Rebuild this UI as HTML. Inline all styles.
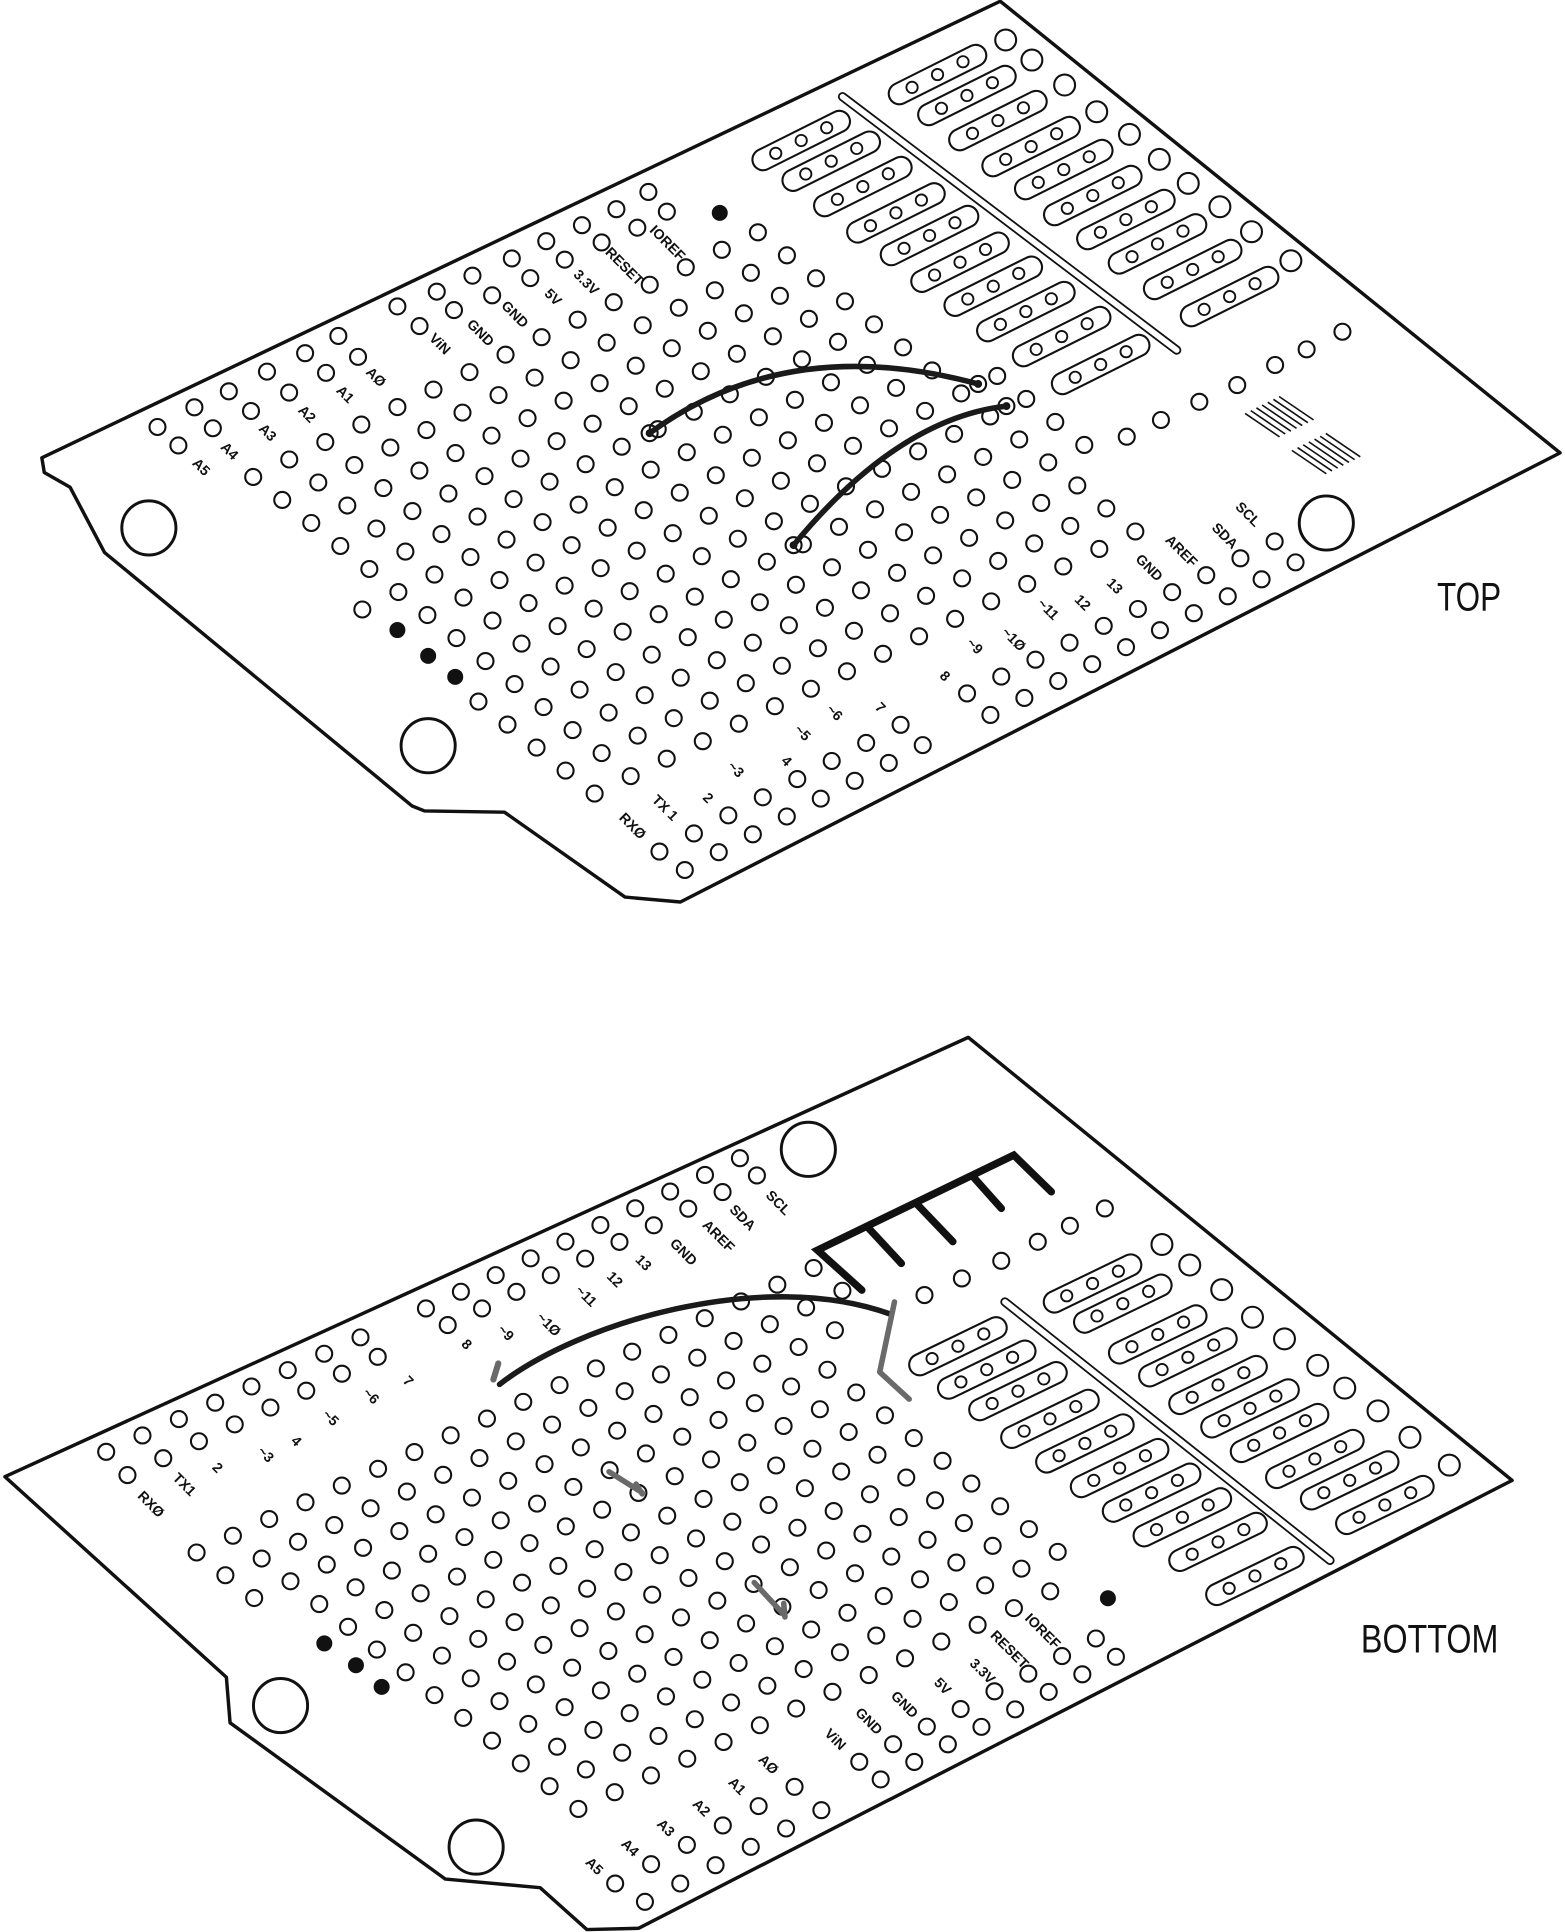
<!DOCTYPE html>
<html><head><meta charset="utf-8"><style>
html,body{margin:0;padding:0;background:#fff;}
svg{display:block;}
.l{font-family:"Liberation Sans",sans-serif;font-size:11.5px;font-weight:bold;fill:#111;text-anchor:middle;dominant-baseline:middle;}
.t{font-family:"Liberation Sans",sans-serif;font-size:32px;fill:#111;text-anchor:middle;}
</style></head><body>
<svg id="s" xmlns="http://www.w3.org/2000/svg" width="1565" height="1932" viewBox="0 0 1272 1570" preserveAspectRatio="none">
<rect width="1272" height="1570" fill="#fff"/>
<polygon points="34,372 813,1 1268,368 553,733 508,729 410,660 345,659 335,655 85,449 57,396 36,384" fill="#fff" stroke="#111" stroke-width="2.8" stroke-linejoin="round"/>
<polygon points="4,1200 787,843 1229,1203 519,1567 477,1568 439,1534 362,1527 187,1400 184,1363" fill="#fff" stroke="#111" stroke-width="2.8" stroke-linejoin="round"/>
<g id="g"></g>
<g id="w">
<path d="M528,352 Q640,270 795,312" fill="none" stroke="#1a1a1a" stroke-width="4.5" stroke-linecap="round"/>
<path d="M818,330 Q730,340 645,443" fill="none" stroke="#1a1a1a" stroke-width="4.5" stroke-linecap="round"/>
<path d="M406,1125 C470,1075 620,1030 724,1068" fill="none" stroke="#1a1a1a" stroke-width="4.5" stroke-linecap="round"/>
<path d="M401,1121 L405,1108" stroke="#6a6a6a" stroke-width="5" stroke-linecap="round"/>
<path d="M727,1058 L715,1115 L739,1137" fill="none" stroke="#6a6a6a" stroke-width="4.5" stroke-linecap="round" stroke-linejoin="round"/>
<path d="M495,1196 L522,1213 M517,1206 L522,1214" fill="none" stroke="#6a6a6a" stroke-width="4.5" stroke-linecap="round"/>
<path d="M613,1286 L638,1313 M637,1303 L638,1314" fill="none" stroke="#6a6a6a" stroke-width="4.5" stroke-linecap="round"/>
<path d="M700.5,1048.4 L664.4,1015.9 L824,938.7 L854.5,968.5 M705,997 L732.6,1026.7 M745.7,979 L774.5,1009 M790.7,956 L813.9,982" fill="none" stroke="#111" stroke-width="6" stroke-linecap="round" stroke-linejoin="miter"/>
</g>
<g>
<text class="l" transform="translate(163,380) rotate(45)">A5</text>
<text class="l" transform="translate(186,367) rotate(45)">A4</text>
<text class="l" transform="translate(217,352) rotate(45)">A3</text>
<text class="l" transform="translate(249,337) rotate(45)">A2</text>
<text class="l" transform="translate(280,321) rotate(45)">A1</text>
<text class="l" transform="translate(305,307) rotate(45)">AØ</text>
<text class="l" transform="translate(357,280) rotate(45)">ViN</text>
<text class="l" transform="translate(390,271) rotate(45)">GND</text>
<text class="l" transform="translate(418,256) rotate(45)">GND</text>
<text class="l" transform="translate(449,242) rotate(45)">5V</text>
<text class="l" transform="translate(476,230) rotate(45)">3.3V</text>
<text class="l" transform="translate(507,217) rotate(45)">RESET</text>
<text class="l" transform="translate(542,198) rotate(45)">IOREF</text>
<text class="l" transform="translate(513.6,671.8) rotate(45)">RXØ</text>
<text class="l" transform="translate(540,657) rotate(45)">TX 1</text>
<text class="l" transform="translate(575,649) rotate(45)">2</text>
<text class="l" transform="translate(597.6,625.8) rotate(45)">~3</text>
<text class="l" transform="translate(638.8,619) rotate(45)">4</text>
<text class="l" transform="translate(651.8,596) rotate(45)">~5</text>
<text class="l" transform="translate(677.8,579.7) rotate(45)">~6</text>
<text class="l" transform="translate(715,575.6) rotate(45)">7</text>
<text class="l" transform="translate(767.5,550) rotate(45)">8</text>
<text class="l" transform="translate(791.7,525.6) rotate(45)">~9</text>
<text class="l" transform="translate(823.4,520) rotate(45)">~1Ø</text>
<text class="l" transform="translate(851.4,495.7) rotate(45)">~11</text>
<text class="l" transform="translate(879.4,490.3) rotate(45)">12</text>
<text class="l" transform="translate(905.5,476.8) rotate(45)">13</text>
<text class="l" transform="translate(933.5,461.9) rotate(45)">GND</text>
<text class="l" transform="translate(959.7,448.3) rotate(45)">AREF</text>
<text class="l" transform="translate(995,436) rotate(45)">SDA</text>
<text class="l" transform="translate(1013.8,418.5) rotate(45)">SCL</text>
<text class="t" transform="translate(1194,496) scale(0.8,1)">TOP</text>
</g>
<g>
<text class="l" transform="translate(122.2,1223) rotate(45)">RXØ</text>
<text class="l" transform="translate(149.3,1206.9) rotate(45)">TX1</text>
<text class="l" transform="translate(176.3,1193.3) rotate(45)">2</text>
<text class="l" transform="translate(215.5,1182.5) rotate(45)">~3</text>
<text class="l" transform="translate(240.3,1171.6) rotate(45)">4</text>
<text class="l" transform="translate(268.2,1152.7) rotate(45)">~5</text>
<text class="l" transform="translate(301,1135) rotate(45)">~6</text>
<text class="l" transform="translate(331.2,1122.9) rotate(45)">7</text>
<text class="l" transform="translate(378.8,1093) rotate(45)">8</text>
<text class="l" transform="translate(410.6,1083.6) rotate(45)">~9</text>
<text class="l" transform="translate(445.5,1076.8) rotate(45)">~1Ø</text>
<text class="l" transform="translate(475.9,1053.8) rotate(45)">~11</text>
<text class="l" transform="translate(499.2,1040.3) rotate(45)">12</text>
<text class="l" transform="translate(522.5,1026.7) rotate(45)">13</text>
<text class="l" transform="translate(555,1018) rotate(45)">GND</text>
<text class="l" transform="translate(583.5,1005) rotate(45)">AREF</text>
<text class="l" transform="translate(603,990) rotate(45)">SDA</text>
<text class="l" transform="translate(632,978) rotate(45)">SCL</text>
<text class="l" transform="translate(847,1326) rotate(45)">IOREF</text>
<text class="l" transform="translate(820,1341) rotate(45)">RESET</text>
<text class="l" transform="translate(798,1358.6) rotate(45)">3.3V</text>
<text class="l" transform="translate(765.6,1370.8) rotate(45)">5V</text>
<text class="l" transform="translate(734.7,1385.7) rotate(45)">GND</text>
<text class="l" transform="translate(705.7,1399.2) rotate(45)">GND</text>
<text class="l" transform="translate(678.4,1414) rotate(45)">ViN</text>
<text class="l" transform="translate(624,1434.4) rotate(45)">AØ</text>
<text class="l" transform="translate(598.6,1452) rotate(45)">A1</text>
<text class="l" transform="translate(569.6,1469.6) rotate(45)">A2</text>
<text class="l" transform="translate(540.6,1485.9) rotate(45)">A3</text>
<text class="l" transform="translate(511.6,1502) rotate(45)">A4</text>
<text class="l" transform="translate(482.5,1517) rotate(45)">A5</text>
<text class="t" transform="translate(1162,1343) scale(0.82,1)">BOTTOM</text>
</g>
</svg>
<script>
(function(){
var NS="http://www.w3.org/2000/svg";
var G=document.getElementById('g');
function el(t,a){var e=document.createElementNS(NS,t);for(var k in a)e.setAttribute(k,a[k]);G.appendChild(e);return e;}
function hole(x,y,r,sw){el('circle',{cx:x.toFixed(1),cy:y.toFixed(1),r:r||6.5,fill:'#fff',stroke:'#111','stroke-width':sw||1.7});}
function dot(x,y){el('circle',{cx:x,cy:y,r:6.5,fill:'#111'});}
function inPoly(x,y,p){var c=false;for(var i=0,j=p.length-1;i<p.length;j=i++){var xi=p[i][0],yi=p[i][1],xj=p[j][0],yj=p[j][1];if(((yi>y)!=(yj>y))&&(x<(xj-xi)*(y-yi)/(yj-yi)+xi))c=!c;}return c;}
function grid(ref,b,a,poly,excl){for(var i=-40;i<=40;i++)for(var j=-40;j<=40;j++){var x=ref[0]+i*b[0]+j*a[0],y=ref[1]+i*b[1]+j*a[1];if(!inPoly(x,y,poly))continue;var ok=true;for(var k=0;k<excl.length;k++){var dx=x-excl[k][0],dy=y-excl[k][1];if(dx*dx+dy*dy<excl[k][2]*excl[k][2]){ok=false;break;}}if(ok)hole(x,y);}}
function row(p0,p1,n,r){for(var k=0;k<n;k++){var t=n>1?k/(n-1):0;hole(p0[0]+(p1[0]-p0[0])*t,p0[1]+(p1[1]-p0[1])*t,r);}}
function list(L,r){L.forEach(function(p){hole(p[0],p[1],r);});}
function strip(c,s,h){
 el('line',{x1:c[0]-h[0],y1:c[1]-h[1],x2:c[0]+h[0],y2:c[1]+h[1],stroke:'#111','stroke-width':19,'stroke-linecap':'round'});
 el('line',{x1:c[0]-h[0],y1:c[1]-h[1],x2:c[0]+h[0],y2:c[1]+h[1],stroke:'#fff','stroke-width':15.6,'stroke-linecap':'round'});
 for(var k=-1;k<=1;k++)hole(c[0]+k*s[0],c[1]+k*s[1],4.6,1.5);
}
function divider(p,q){
 el('line',{x1:p[0],y1:p[1],x2:q[0],y2:q[1],stroke:'#111','stroke-width':7.5,'stroke-linecap':'round'});
 el('line',{x1:p[0],y1:p[1],x2:q[0],y2:q[1],stroke:'#fff','stroke-width':4.6,'stroke-linecap':'round'});
}
function mount(x,y){el('circle',{cx:x,cy:y,r:22,fill:'#fff',stroke:'#111','stroke-width':2.4});}

mount(121,429);mount(348,606);mount(1078,425);
var tdots=[[323,512],[348,533],[370,550],[585,173]];
var Ptop=[[200,380],[618,185],[735,282],[808,298],[950,420],[745,538],[500,655],[480,655],[200,415]];
grid([371,518.5],[29.3,-14.2],[23.6,18.7],Ptop,tdots.map(function(d){return [d[0],d[1],13];}).concat([[348,606,32]]));
tdots.forEach(function(d){dot(d[0],d[1]);});
list([[128,347],[158,331],[186,318],[217,302],[248,287],[275,273]]);
list([[145,362],[173,348],[204,334],[235,319],[265,303],[291,290]]);
list([[323,249],[355,237],[384,224],[416,210],[444,196],[473,183],[501,170],[527,156]]);
list([[341,265],[369,252],[400,240],[431,226],[459,211],[489,197],[518,185],[542,172]]);
row([536,692],[732,589],8);row([556.6,707],[750,605.5],8);
row([786,563.5],[1036,440],10);row([805,581],[1053,457],10);
list([[817.4,32.5],[838.7,48.8],[865.3,69.1],[891.4,90.8],[918,109.2],[942.3,129.5],[965.8,149],[991.5,168],[1017.2,188.3],[1049.2,211.9]],8.5);
list([[915.8,354.9],[943.6,341.3],[974.8,326.5],[1005.6,312.9],[1036.4,296.6],[1062,283.9],[1091.1,269.6]],6.5);
divider([684.8,78.6],[956.4,284.5]);
var ts=[20.7,-10.4],th=[31,-15.5];
[[630.5,124.6],[654.9,141.4],[680.6,162],[707.5,183.4],[734.8,201.8],[759.6,223.5],[786.6,243],[813.1,263.6],[842.2,283.9],[873.9,306.6],
 [741.3,71],[765.2,88],[790.4,108.4],[817.4,129.5],[843.9,148.2],[867.5,169.3],[894.4,188.8],[920.1,208.6],[948.7,229.4],[978.7,251.4]]
 .forEach(function(h){strip([h[0]+ts[0],h[1]+ts[1]],ts,th);});
for(var g=0;g<2;g++){var ox=g?1050:1012,oy=g?366:336;for(var k=0;k<7;k++){el('line',{x1:ox+k*4.6,y1:oy-k*2.3,x2:ox+28+k*4.6,y2:oy+19-k*2.3,stroke:'#111','stroke-width':1.3});}}
[[528,352],[795,312],[818,330],[645,443]].forEach(function(p){el('circle',{cx:p[0],cy:p[1],r:6.5,fill:'none',stroke:'#111','stroke-width':1.7});el('circle',{cx:p[0],cy:p[1],r:3.2,fill:'#111'});});

mount(657,934);mount(228,1386);mount(387,1501);
var bdots=[[263.6,1335.5],[289.3,1353.2],[310.2,1370.8],[900.5,1298.8]];
var Pbot=[[140,1245],[400,1128],[640,1022],[705,1045],[700,1100],[745,1160],[885,1278],[470,1490],[440,1478],[335,1398],[240,1322],[140,1252]];
grid([495.5,1194.7],[29.5,-13.6],[23.4,18.5],Pbot,bdots.map(function(d){return [d[0],d[1],13];}).concat([[387,1501,32],[228,1386,32]]));
bdots.forEach(function(d){dot(d[0],d[1]);});
row([86.3,1179.8],[293,1086.8],8);row([103.6,1198.7],[307,1102.6],8);
row([346.2,1063.3],[601.4,941.2],10);row([363.9,1076.8],[615.2,955.2],10);
row([698.4,1431.7],[890.7,1331.5],8);row([715.8,1446],[907,1346.4],8);
row([500,1530.6],[645.8,1452],6);row([524.2,1545.5],[667.6,1471],6);
list([[944.4,1011.3],[967,1028],[993,1048],[1018,1070.4],[1044,1088],[1071,1109.5],[1093,1128],[1120,1146.5],[1146,1168],[1178,1190.6]],8.5);
list([[751.4,1052.4],[781.8,1038.9],[813.8,1024.6],[843.5,1009.1],[869.6,996.1],[898,982]],6.5);
divider([816.8,1058],[1081,1268]);
var bs=[21,-10],bh=[31,-15];
[[778.6,1094],[802,1113],[827.4,1130.5],[853.4,1153],[881.8,1173],[910,1193],[936,1213],[961,1233],[990,1253],[1020,1280.7],
 [888,1043],[912.6,1059.4],[941,1084.4],[965.5,1103],[990,1125.5],[1016,1144.5],[1040,1164.5],[1068.7,1185.6],[1097,1203],[1125.6,1223]]
 .forEach(function(c){strip(c,bs,bh);});
})();
</script>
</body></html>
